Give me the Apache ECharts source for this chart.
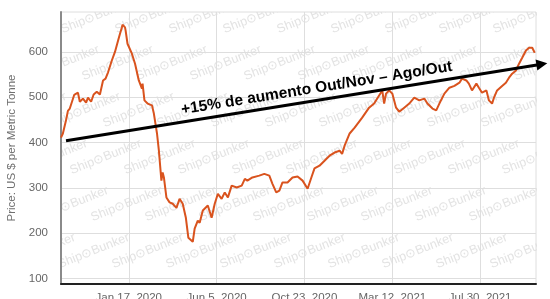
<!DOCTYPE html>
<html>
<head>
<meta charset="utf-8">
<script src="https://cdn.jsdelivr.net/npm/echarts@6/dist/echarts.min.js"></script>
<style>
html,body{margin:0;padding:0;background:#fff;}
#c{width:550px;height:299px;}
</style>
</head>
<body>
<div id="c"></div>
<script>
// ---- data ----
const dates = [
'2019-10-01','2019-10-04','2019-10-09','2019-10-12','2019-10-15','2019-10-22','2019-10-28','2019-10-31',
'2019-11-05','2019-11-10','2019-11-13','2019-11-18','2019-11-22','2019-11-27',
'2019-12-02','2019-12-07','2019-12-11','2019-12-15','2019-12-21','2019-12-26','2019-12-31',
'2020-01-03','2020-01-06','2020-01-07','2020-01-11','2020-01-12','2020-01-15','2020-01-22','2020-01-27',
'2020-02-02','2020-02-07','2020-02-08','2020-02-11','2020-02-16','2020-02-23','2020-02-26',
'2020-03-02','2020-03-05','2020-03-09','2020-03-11','2020-03-13','2020-03-17','2020-03-22','2020-03-27',
'2020-04-02','2020-04-07','2020-04-12','2020-04-17','2020-04-21','2020-04-28',
'2020-05-01','2020-05-06','2020-05-09','2020-05-14','2020-05-22','2020-05-28',
'2020-06-02','2020-06-07','2020-06-13','2020-06-18','2020-06-23','2020-06-29',
'2020-07-07','2020-07-15','2020-07-20','2020-07-24',
'2020-08-01','2020-08-12','2020-08-20','2020-08-28',
'2020-09-02','2020-09-08','2020-09-13','2020-09-18','2020-09-26',
'2020-10-04','2020-10-12','2020-10-20','2020-10-28',
'2020-11-03','2020-11-08','2020-11-16','2020-11-24',
'2020-12-02','2020-12-10','2020-12-18','2020-12-22','2020-12-26',
'2021-01-03','2021-01-11','2021-01-23',
'2021-02-03','2021-02-11','2021-02-19','2021-02-24','2021-02-27',
'2021-03-02','2021-03-07','2021-03-12','2021-03-18','2021-03-23','2021-03-31',
'2021-04-08','2021-04-16','2021-04-24',
'2021-05-02','2021-05-07','2021-05-15','2021-05-21','2021-05-26',
'2021-06-03','2021-06-11','2021-06-19','2021-06-27',
'2021-07-01','2021-07-08','2021-07-12','2021-07-17','2021-07-24','2021-07-28',
'2021-08-02','2021-08-09','2021-08-13','2021-08-18','2021-08-21','2021-08-26',
'2021-09-03','2021-09-09','2021-09-14','2021-09-19','2021-09-25','2021-09-30',
'2021-10-05','2021-10-11','2021-10-16','2021-10-21','2021-10-25'
];
const prices = [
411,420,449,470,475,505,510,490,
497,488,499,490,506,512,
506,537,541,555,581,600,625,
640,654,660,654,647,618,596,574,
537,519,530,493,486,482,464,
420,382,316,334,323,279,268,265,
256,276,265,234,190,181,
210,228,223,250,261,234,
265,287,276,290,279,305,
301,305,320,316,
323,327,331,327,
309,290,294,312,312,
323,325,316,298,
323,343,349,360,
371,378,382,375,393,
420,433,455,
477,486,504,515,486,
508,515,508,477,468,477,
486,499,493,
497,486,475,471,486,
508,521,525,532,
541,537,530,515,530,521,
510,515,493,486,499,515,
525,532,543,552,559,574,
587,603,609,609,598
];
const xTickDates = ['2020-01-17','2020-06-05','2020-10-23','2021-03-12','2021-07-30'];
const xTickLabels = ['Jan 17, 2020','Jun 5, 2020','Oct 23, 2020','Mar 12, 2021','Jul 30, 2021'];
const yTicks = [100,200,300,400,500,600];
const xRange = ['2019-10-01','2021-10-27'];
const yRange = [88,688];
const arrowFrom = ['2019-10-09', 404];
const arrowTo = ['2021-11-14', 575];
const annotationText = '+15% de aumento Out/Nov \u2013 Ago/Out';
const yName = 'Price: US $ per Metric Tonne';
const watermark = 'Ship\u2299Bunker';

// ---- chart ----
function ts(s){ const p = s.split('-').map(Number); return Date.UTC(p[0], p[1]-1, p[2]); }
const xTickTs = xTickDates.map(ts);
const seriesData = dates.map((d,i)=>[ts(d), prices[i]]);

const chart = echarts.init(document.getElementById('c'), null, {renderer:'canvas'});
const G = {left:61, right:14, top:12, bottom:15};
chart.setOption({
  animation:false,
  backgroundColor:'#fff',
  grid:{left:G.left, right:G.right, top:G.top, bottom:G.bottom, containLabel:false, outerBoundsMode:'none',
    show:true, borderColor:'#dedede', borderWidth:1, backgroundColor:'transparent'},
  xAxis:{
    type:'value', min:ts(xRange[0]), max:ts(xRange[1]),
    axisLine:{show:true, onZero:false, lineStyle:{color:'#222', width:2}},
    axisTick:{show:false, customValues:xTickTs},
    axisLabel:{customValues:xTickTs, margin:8, color:'#666', fontSize:11.5, fontFamily:'Liberation Sans',
      formatter:function(v){ const i = xTickTs.indexOf(v); return i>=0 ? xTickLabels[i] : ''; }},
    splitLine:{show:true, lineStyle:{color:'#dedede', width:1}}
  },
  yAxis:{
    type:'value', min:yRange[0], max:yRange[1],
    name:yName, nameLocation:'middle', nameGap:41,
    nameTextStyle:{color:'#707070', fontSize:11.5, fontFamily:'Liberation Sans'},
    axisLine:{show:true, lineStyle:{color:'#8a8a8a', width:2}},
    axisTick:{show:false, customValues:yTicks},
    axisLabel:{customValues:yTicks, margin:13, color:'#666', fontSize:11.5, fontFamily:'Liberation Sans'},
    splitLine:{show:true, lineStyle:{color:'#dedede', width:1}}
  },
  series:[{
    type:'line', data:seriesData, showSymbol:false, z:5,
    lineStyle:{color:'#d9531e', width:2}, itemStyle:{color:'#d9531e'}
  }]
});

// ---- watermark + annotation (positioned through the chart's scales) ----
const gfx = [];
const W = 550, H = 299;
const gx0 = G.left, gx1 = W - G.right, gy0 = G.top, gy1 = H - G.bottom;
for (let r = -4; r <= 3; r++) {
  const y = 177 + 47*r;
  if (y < gy0 + 18 || y > gy1 + 5) continue;
  let xs = 73 + 21*r;
  while (xs > gx0 - 60) xs -= 54;
  for (let x = xs; x < gx1 - 10; x += 54) {
    gfx.push({type:'text', x:x, y:y, rotation:0.38, z:-2, silent:true,
      style:{text:watermark, fill:'#e3e3e3', fontSize:12.5, fontFamily:'Liberation Sans', align:'left', verticalAlign:'bottom'}});
  }
}
// white masks so the watermark stays inside the plot area
gfx.push({type:'rect', z:-1, silent:true, shape:{x:0, y:0, width:gx0-1, height:H}, style:{fill:'#fff'}});
gfx.push({type:'rect', z:-1, silent:true, shape:{x:gx1+1, y:0, width:W-gx1, height:H}, style:{fill:'#fff'}});
gfx.push({type:'rect', z:-1, silent:true, shape:{x:0, y:0, width:W, height:gy0}, style:{fill:'#fff'}});
gfx.push({type:'rect', z:-1, silent:true, shape:{x:0, y:gy1+1, width:W, height:H-gy1}, style:{fill:'#fff'}});

const p0 = chart.convertToPixel({gridIndex:0}, [ts(arrowFrom[0]), arrowFrom[1]]);
const p1 = chart.convertToPixel({gridIndex:0}, [ts(arrowTo[0]), arrowTo[1]]);
const dx = p1[0]-p0[0], dy = p1[1]-p0[1];
const len = Math.sqrt(dx*dx+dy*dy);
const ux = dx/len, uy = dy/len;
const ang = Math.atan2(-dy, dx);
const headL = 11, headW = 5.5;
const bx = p1[0]-ux*headL, by = p1[1]-uy*headL;
gfx.push({type:'line', z:20, silent:true, shape:{x1:p0[0], y1:p0[1], x2:bx+ux*2, y2:by+uy*2}, style:{stroke:'#000', lineWidth:3}});
gfx.push({type:'polygon', z:20, silent:true, shape:{points:[[p1[0],p1[1]],[bx-uy*headW, by+ux*headW],[bx+uy*headW, by-ux*headW]]}, style:{fill:'#000'}});
const t = 0.525;
const mx = p0[0]+dx*t, my = p0[1]+dy*t;
const nx = uy, ny = -ux; // upward normal
gfx.push({type:'text', z:21, silent:true, x:mx+nx*12, y:my+ny*12, rotation:ang,
  style:{text:annotationText, fill:'#000', fontSize:15.5, fontWeight:'bold', fontFamily:'Liberation Sans', align:'center', verticalAlign:'middle'}});
chart.setOption({graphic:gfx});
</script>
</body>
</html>
